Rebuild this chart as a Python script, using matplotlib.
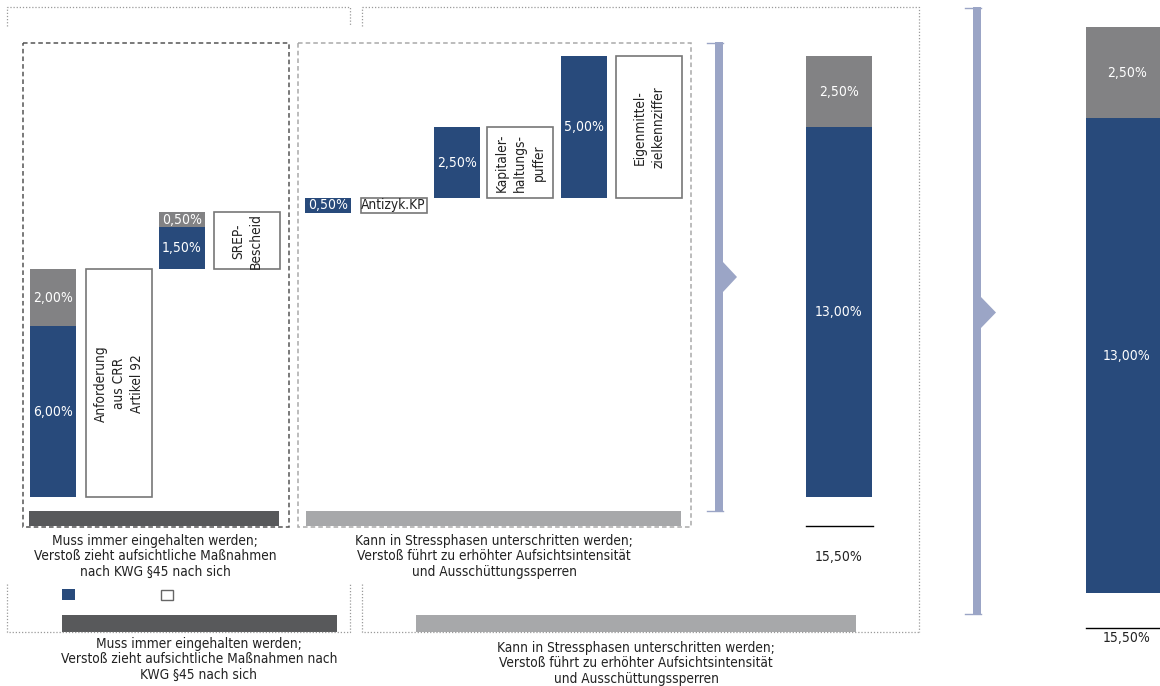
import matplotlib
matplotlib.use("Agg")
import matplotlib.pyplot as plt
from matplotlib.patches import Rectangle, Polygon
from matplotlib import font_manager

# ---------------- data ----------------
step_labels = ["Anforderung\naus CRR\nArtikel 92", "SREP-\nBescheid", "Antizyk.KP",
               "Kapitaler-\nhaltungs-\npuffer", "Eigenmittel-\nzielkennziffer"]
step_blue = [6.00, 1.50, 0.50, 2.50, 5.00]
step_gray = [2.00, 0.50, 0.00, 0.00, 0.00]
step_base = [0.00, 8.00, 10.00, 10.50, 10.50]
total_blue = 13.00
total_gray = 2.50
total_value = 15.50

group_texts = ["Muss immer eingehalten werden;\nVerstoß zieht aufsichtliche Maßnahmen\nnach KWG §45 nach sich",
               "Kann in Stressphasen unterschritten werden;\nVerstoß führt zu erhöhter Aufsichtsintensität\nund Ausschüttungssperren"]
group_texts2 = ["Muss immer eingehalten werden;\nVerstoß zieht aufsichtliche Maßnahmen nach\nKWG §45 nach sich",
                "Kann in Stressphasen unterschritten werden;\nVerstoß führt zu erhöhter Aufsichtsintensität\nund Ausschüttungssperren"]

# ---------------- style ----------------
NAVY = "#284A7B"
GRAY = "#828284"
DARK = "#58595B"
LIGHT = "#A7A8AA"
BRACKET = "#9BA5C6"
TXT = "#222222"

# pick a condensed / narrow sans font if one is installed
prio = ["liberationsansnarrow-regular", "dejavusanscondensed.ttf", "robotocondensed-regular",
        "opensans_condensed-regular", "opensanscondensed", "notosans-condensed.ttf",
        "notosanscondensed-regular", "roboto_condensed-regular"]
found = None
allf = [f.fname for f in font_manager.fontManager.ttflist]
for p in prio:
    for fn in allf:
        if p in fn.lower().replace(" ", ""):
            found = fn
            break
    if found:
        break
if found is None:
    for fn in allf:
        l = fn.lower()
        if ("condensed" in l or "narrow" in l) and "bold" not in l and "italic" not in l \
                and "oblique" not in l and "mono" not in l and "serif" not in l and "light" not in l \
                and "semi" not in l and "extra" not in l and "medium" not in l and "black" not in l \
                and "thin" not in l and "cjk" not in l:
            found = fn
            break

if found:
    FP = font_manager.FontProperties(fname=found)
    SCALE = 1.0
else:
    FP = font_manager.FontProperties(family="Liberation Sans")
    SCALE = 0.85

def T(a, x, y, s, size=10, **kw):
    fp = FP.copy()
    fp.set_size(size * SCALE)
    return a.text(x, y, s, fontproperties=fp, **kw)

def fmt(v):
    return f"{v:.2f}".replace(".", ",") + "%"

W, H = 1160, 686
fig = plt.figure(figsize=(W / 100, H / 100), dpi=100)

# overlay in pixel coordinates for decorations
pax = fig.add_axes([0, 0, 1, 1])
pax.set_xlim(0, W); pax.set_ylim(H, 0); pax.axis("off")

# data axes: percent scale (0 at px 497, 28.45 px per %)
base_px, scale = 497.0, 28.45
ax = fig.add_axes([0, 0, 1, 1])
ax.set_xlim(0, W)
ax.set_ylim(-(H - base_px) / scale, base_px / scale)
ax.axis("off"); ax.patch.set_alpha(0)

# far-right axes: own scale (0 at px 593, 36.5 px per %)
base2, scale2 = 593.0, 36.5
ax2 = fig.add_axes([0, 0, 1, 1])
ax2.set_xlim(0, W)
ax2.set_ylim(-(H - base2) / scale2, base2 / scale2)
ax2.axis("off"); ax2.patch.set_alpha(0)

# ---------------- dotted outer brackets ----------------
dot = dict(color="#9a9a9a", lw=0.9, ls=(0, (1, 1.5)))
pax.plot([7, 7, 350, 350], [26, 7, 7, 26], **dot)
pax.plot([362, 362], [26, 7], **dot)
pax.plot([362, 919, 919], [7, 7, 632], **dot)
pax.plot([7, 7, 350, 350], [584, 632, 632, 584], **dot)
pax.plot([362, 362, 919], [584, 632, 632], **dot)

# dashed group boxes
pax.add_patch(Rectangle((23, 43), 266, 484, fill=False, ec="#555555", lw=1.1, ls=(0, (3, 2))))
pax.add_patch(Rectangle((298, 43), 393, 484, fill=False, ec="#AAAAAA", lw=1.1, ls=(0, (3, 2))))

# group bars
pax.add_patch(Rectangle((29, 511), 250, 15, color=DARK, lw=0))
pax.add_patch(Rectangle((306, 511), 375, 15, color=LIGHT, lw=0))
pax.add_patch(Rectangle((62, 615), 275, 17, color=DARK, lw=0))
pax.add_patch(Rectangle((416, 615), 440, 17, color=LIGHT, lw=0))

# legend squares
pax.add_patch(Rectangle((62, 589), 13, 11, color=NAVY, lw=0))
pax.add_patch(Rectangle((160.5, 589.5), 12, 10, fc="white", ec="#666666", lw=1))

# group texts
for x, t in zip([155, 494], group_texts):
    T(pax, x, 534, t, 9.8, ha="center", va="top", color=TXT, linespacing=1.13)
for x, y, t in zip([199, 636], [637, 641], group_texts2):
    T(pax, x, y, t, 9.8, ha="center", va="top", color=TXT, linespacing=1.13)

# ---------------- step bars ----------------
bar_x = [53, 182, 328, 457, 584]
box_x = [119, 247, 393.5, 520, 649]
bw, boxw = 46, 66
ax.bar(bar_x, step_blue, width=bw, bottom=step_base, color=NAVY, lw=0)
gray_bottom = [b + v for b, v in zip(step_base, step_blue)]
ax.bar(bar_x, step_gray, width=bw, bottom=gray_bottom, color=GRAY, lw=0)
for x, b, v, g in zip(bar_x, step_base, step_blue, step_gray):
    T(ax, x, b + v / 2, fmt(v), 10, ha="center", va="center", color="white")
    if g > 0:
        T(ax, x, b + v + g / 2, fmt(g), 10, ha="center", va="center", color="white")

box_h = [v + g for v, g in zip(step_blue, step_gray)]
ax.bar(box_x, box_h, width=boxw, bottom=step_base, fc="white", ec="#777777", lw=1.2)
for x, b, h, lab in zip(box_x, step_base, box_h, step_labels):
    rot = 0 if "\n" not in lab else 90
    T(ax, x, b + h / 2, lab, 9.8, ha="center", va="center", rotation=rot, color=TXT,
      linespacing=1.4)

# ---------------- totals ----------------
ax.bar(839, total_blue, width=66, color=NAVY, lw=0)
ax.bar(839, total_gray, width=66, bottom=total_blue, color=GRAY, lw=0)
T(ax, 839, total_blue / 2, fmt(total_blue), 10, ha="center", va="center", color="white")
T(ax, 839, total_blue + total_gray / 2, fmt(total_gray), 10, ha="center", va="center", color="white")
pax.plot([806, 873], [526, 526], color="black", lw=1)
T(pax, 839, 557, fmt(total_value), 10, ha="center", va="center", color=TXT)

ax2.bar(1127, total_blue, width=82, color=NAVY, lw=0)
ax2.bar(1127, total_gray, width=82, bottom=total_blue, color=GRAY, lw=0)
T(ax2, 1127, total_blue / 2, fmt(total_blue), 10, ha="center", va="center", color="white")
T(ax2, 1127, total_blue + total_gray / 2, fmt(total_gray), 10, ha="center", va="center", color="white")
pax.plot([1086, 1160], [628, 628], color="black", lw=1)
T(pax, 1127, 638, fmt(total_value), 10, ha="center", va="center", color=TXT)

# ---------------- brackets ----------------
def bracket(x0, x1, y0, y1, ya, yb, tip):
    pax.add_patch(Rectangle((x0, y0), x1 - x0, y1 - y0, color=BRACKET, lw=0))
    pax.plot([x0 - 8, x1], [y0 + 0.5, y0 + 0.5], color=BRACKET, lw=1)
    pax.plot([x0 - 8, x1], [y1 - 0.5, y1 - 0.5], color=BRACKET, lw=1)
    pax.add_patch(Polygon([(x1, ya), (tip, (ya + yb) / 2), (x1, yb)], closed=True, color=BRACKET, lw=0))

bracket(715, 723, 42, 511, 262, 292, 737)
bracket(973, 981, 7, 614, 297, 328, 996)

fig.savefig("out.png", dpi=100)
